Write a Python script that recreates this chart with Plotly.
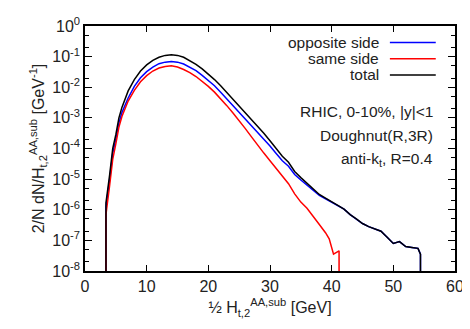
import plotly.graph_objects as go

# 1/2 H_t,2 [GeV] and log10 of 2/N dN/dH (1e-10 = edge of histogram, drawn as drop to axis)
x_total = [3.4, 3.4, 4.0, 4.5, 5.0, 5.5, 6.0, 7.0, 8.0, 9.0, 10.0, 11.0, 12.0, 13.0, 14.0,
           15.0, 16.0, 17.0, 18.0, 19.0, 20.0, 21.0, 22.0, 23.0, 24.0, 25.0, 26.0, 27.0,
           28.0, 29.0, 30.0, 31.0, 32.0, 33.0, 34.0, 35.0, 36.0, 37.0, 38.0, 39.0, 40.0,
           41.0, 42.0, 43.0, 44.0, 45.0, 46.0, 47.0, 48.0, 49.0, 50.0, 51.0, 52.0, 53.0,
           54.0, 54.4, 54.4]
log_total = [-10, -5.77, -4.85, -4.0, -3.55, -3.0, -2.65, -2.12, -1.75, -1.47, -1.27, -1.12,
             -1.02, -0.96, -0.94, -0.96, -1.02, -1.13, -1.25, -1.40, -1.56, -1.75, -1.95,
             -2.17, -2.39, -2.61, -2.83, -3.05, -3.27, -3.50, -3.75, -4.00, -4.25, -4.45,
             -4.75, -4.95, -5.13, -5.32, -5.50, -5.62, -5.75, -5.86, -5.98, -6.16, -6.30,
             -6.45, -6.55, -6.62, -6.70, -6.90, -7.10, -7.04, -7.20, -7.23, -7.26, -7.45, -10]

x_opp = x_total
log_opp = [-10, -5.90, -5.00, -4.15, -3.70, -3.17, -2.82, -2.35, -1.97, -1.69, -1.49, -1.34,
           -1.23, -1.18, -1.16, -1.18, -1.24, -1.34, -1.46, -1.61, -1.77, -1.95, -2.16,
           -2.38, -2.59, -2.82, -3.04, -3.25, -3.46, -3.68, -3.92, -4.16, -4.40, -4.58,
           -4.85, -5.03, -5.19, -5.36, -5.53, -5.64, -5.76, -5.87, -5.98, -6.16, -6.30,
           -6.45, -6.55, -6.62, -6.70, -6.90, -7.10, -7.04, -7.20, -7.23, -7.26, -7.45, -10]

x_same = [3.4, 3.4, 4.0, 4.5, 5.0, 5.5, 6.0, 7.0, 8.0, 9.0, 10.0, 11.0, 12.0, 13.0, 14.0,
          15.0, 16.0, 17.0, 18.0, 19.0, 20.0, 21.0, 22.0, 23.0, 24.0, 25.0, 26.0, 27.0,
          28.0, 29.0, 30.0, 31.0, 32.0, 33.0, 34.0, 35.0, 36.0, 37.0, 38.0, 39.0, 39.6,
          40.3, 41.2, 41.2]
log_same = [-10, -6.15, -5.20, -4.35, -3.85, -3.30, -2.95, -2.45, -2.10, -1.82, -1.62, -1.47,
            -1.37, -1.32, -1.30, -1.34, -1.42, -1.52, -1.65, -1.80, -1.97, -2.16, -2.37,
            -2.60, -2.84, -3.08, -3.35, -3.62, -3.90, -4.15, -4.40, -4.65, -4.90, -5.15,
            -5.48, -5.75, -5.95, -6.20, -6.48, -6.75, -6.95, -7.45, -7.34, -10]

series = [
    ("opposite side", x_opp, log_opp, "#0000ff"),
    ("same side", x_same, log_same, "#ff0000"),
    ("total", x_total, log_total, "#000000"),
]

y_tickvals = [1e0, 1e-1, 1e-2, 1e-3, 1e-4, 1e-5, 1e-6, 1e-7, 1e-8]
y_ticktext = ["10<sup>0</sup>", "10<sup>-1</sup>", "10<sup>-2</sup>", "10<sup>-3</sup>",
              "10<sup>-4</sup>", "10<sup>-5</sup>", "10<sup>-6</sup>", "10<sup>-7</sup>",
              "10<sup>-8</sup>"]

labels = ["RHIC, 0-10%, |y|<1", "Doughnut(R,3R)", "anti-k<sub>t</sub>, R=0.4"]

font = dict(family="Liberation Sans, Arial, sans-serif", size=15.5, color="#222222")
tick_font = dict(family="Liberation Sans, Arial, sans-serif", size=16, color="#222222")

fig = go.Figure()
for name, xs, ls, col in series:
    fig.add_trace(go.Scatter(x=xs, y=[10 ** v for v in ls], mode="lines", name=name,
                             line=dict(color=col, width=1.5), showlegend=False))

# gnuplot-style key: text right aligned, sample line on the right
key_y = [0.933, 0.866, 0.800]
for (name, _, _, col), ky in zip(series, key_y):
    fig.add_annotation(xref="paper", yref="paper", x=0.800, y=ky, text=name,
                       showarrow=False, xanchor="right", yanchor="middle", font=font)
    fig.add_shape(type="line", xref="paper", yref="paper", x0=0.824, x1=0.948, y0=ky, y1=ky,
                  line=dict(color=col, width=1.5))

for lab, ly in zip(labels, [0.652, 0.553, 0.457]):
    fig.add_annotation(xref="paper", yref="paper", x=0.947, y=ly, text=lab,
                       showarrow=False, xanchor="right", yanchor="middle", font=font)

fig.update_layout(
    width=470, height=329,
    margin=dict(l=77, r=23, t=18, b=66),
    paper_bgcolor="white", plot_bgcolor="white",
    font=font,
)
fig.update_xaxes(
    range=[0, 60], dtick=10, ticks="inside", ticklen=6, tickcolor="black",
    tickfont=tick_font, automargin=False,
    showline=True, linecolor="black", linewidth=1.5, mirror="allticks",
    showgrid=False, zeroline=False,
    title=dict(text="½ H<sub>t,2</sub><sup>AA,sub</sup> [GeV]", standoff=8, font=tick_font),
)
fig.update_yaxes(
    type="log", range=[-8, 0], tickvals=y_tickvals, ticktext=y_ticktext,
    ticks="inside", ticklen=7, tickcolor="black", tickfont=tick_font, automargin=False,
    minor=dict(ticks="inside", ticklen=4, tickcolor="black", dtick="D2", showgrid=False),
    showline=True, linecolor="black", linewidth=1.5, mirror="allticks",
    showgrid=False, zeroline=False,
    title=dict(text="2/N dN/H<sub>t,2</sub><sup>AA,sub</sup> [GeV<sup>-1</sup>]", standoff=4,
               font=tick_font),
)

fig.write_html("out.html")
